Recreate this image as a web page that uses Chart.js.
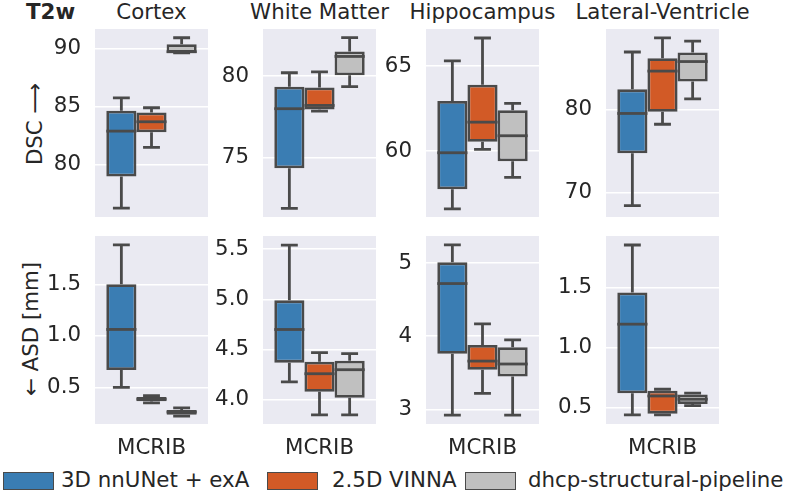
<!DOCTYPE html>
<html>
<head>
<meta charset="utf-8">
<script src="https://cdn.jsdelivr.net/npm/chart.js@4"></script>
<style>
  body { margin: 0; width: 788px; height: 494px; position: relative; overflow: hidden; background: #fff;
         font-family: "DejaVu Sans", sans-serif; color: #262626; }
  canvas { position: absolute; }
  .t { position: absolute; font-size: 21.33px; line-height: 21.33px; white-space: nowrap; }
  .patch { position: absolute; height: 18px; border: 1px solid #4a4a4a; box-sizing: border-box; }
</style>
</head>
<body>
<div class="t" style="left:26px;top:1px;font-weight:bold">T2w</div>
<div class="t" style="left:35px;top:124px;transform:translate(-50%,-50%) rotate(-90deg)">DSC ⟶</div>
<div class="t" style="left:31px;top:329px;transform:translate(-50%,-50%) rotate(-90deg)">← ASD [mm]</div>
<div id="titles"></div>
<div id="legend"></div>

<canvas id="dsc0" width="183" height="244" style="left:25px;top:1px"></canvas>
<canvas id="dsc1" width="183" height="244" style="left:193px;top:1px"></canvas>
<canvas id="dsc2" width="183" height="244" style="left:356px;top:1px"></canvas>
<canvas id="dsc3" width="183" height="244" style="left:536px;top:1px"></canvas>
<canvas id="asd0" width="183" height="256" style="left:25px;top:208px"></canvas>
<canvas id="asd1" width="183" height="256" style="left:193px;top:208px"></canvas>
<canvas id="asd2" width="183" height="256" style="left:356px;top:208px"></canvas>
<canvas id="asd3" width="183" height="256" style="left:536px;top:208px"></canvas>

<script>
// data: box stats per method as [min, q1, median, q3, max]
const methods = ['3D nnUNet + exA', '2.5D VINNA', 'dhcp-structural-pipeline']
const regions = ['Cortex', 'White Matter', 'Hippocampus', 'Lateral-Ventricle']
const datasetNames = ['MCRIB']

const dscCortex = [[76.3, 79.0, 82.9, 84.65, 85.75], [81.5, 82.8, 83.7, 84.5, 84.9], [89.6, 89.6, 89.7, 90.35, 90.9]]
const dscWhiteMatter = [[71.9, 74.35, 78.0, 79.35, 80.2], [77.85, 77.95, 78.2, 79.3, 80.25], [79.35, 80.05, 81.2, 81.5, 82.35]]
const dscHippocampus = [[56.6, 57.75, 59.9, 62.95, 65.3], [60.1, 60.55, 61.7, 63.9, 66.65], [58.45, 59.4, 60.9, 62.4, 62.8]]
const dscVentricle = [[68.4, 74.7, 79.5, 82.4, 86.9], [78.2, 79.7, 84.6, 86.15, 88.6], [81.25, 83.35, 85.75, 86.85, 88.2]]

const asdCortex = [[0.5, 0.668, 1.062, 1.5, 1.882], [0.35, 0.365, 0.385, 0.405, 0.42], [0.22, 0.235, 0.26, 0.28, 0.30]]
const asdWhiteMatter = [[4.18, 4.37, 4.70, 4.99, 5.54], [3.85, 4.08, 4.26, 4.38, 4.47], [3.85, 4.02, 4.30, 4.39, 4.46]]
const asdHippocampus = [[2.92, 3.76, 4.72, 5.01, 5.25], [3.22, 3.54, 3.66, 3.88, 4.17], [2.92, 3.45, 3.62, 3.85, 3.95]]
const asdVentricle = [[0.44, 0.62, 1.194, 1.458, 1.852], [0.44, 0.45, 0.597, 0.64, 0.653], [0.517, 0.53, 0.57, 0.61, 0.62]]

// tick labels per panel
const dscTicks = [['80', '85', '90'], ['75', '80'], ['60', '65'], ['70', '80']]
const asdTicks = [['0.5', '1.0', '1.5'], ['4.0', '4.5', '5.0', '5.5'], ['3', '4', '5'], ['0.5', '1.0', '1.5']]

const colors = ['#3a7db3', '#d25a26', '#c0c0c0']
const edge = '#4a4a4a'
const txt = '#262626'
const font = { family: 'DejaVu Sans', size: 21.33 }
const plotLefts = [95, 263, 426, 606]
const plotW = 113

// background, whiskers and medians
const boxPlugin = {
  id: 'boxes',
  beforeDraw(chart) {
    const { ctx, chartArea: a } = chart
    ctx.save()
    ctx.fillStyle = '#eaeaf2'
    ctx.fillRect(a.left, a.top, a.width, a.height)
    ctx.restore()
  },
  beforeDatasetsDraw(chart) {
    const ctx = chart.ctx
    const y = chart.scales.y
    ctx.save()
    ctx.strokeStyle = edge
    ctx.lineWidth = 2.8
    chart.data.datasets.forEach((ds, i) => {
      const bar = chart.getDatasetMeta(i).data[0]
      const s = ds.stats
      const cap = bar.width * 0.28
      ctx.beginPath()
      ctx.moveTo(bar.x, y.getPixelForValue(s[3]))
      ctx.lineTo(bar.x, y.getPixelForValue(s[4]))
      ctx.moveTo(bar.x - cap, y.getPixelForValue(s[4]))
      ctx.lineTo(bar.x + cap, y.getPixelForValue(s[4]))
      ctx.moveTo(bar.x, y.getPixelForValue(s[1]))
      ctx.lineTo(bar.x, y.getPixelForValue(s[0]))
      ctx.moveTo(bar.x - cap, y.getPixelForValue(s[0]))
      ctx.lineTo(bar.x + cap, y.getPixelForValue(s[0]))
      ctx.stroke()
    })
    ctx.restore()
  },
  afterDatasetsDraw(chart) {
    const ctx = chart.ctx
    const y = chart.scales.y
    ctx.save()
    ctx.strokeStyle = edge
    ctx.lineWidth = 2.8
    chart.data.datasets.forEach((ds, i) => {
      const bar = chart.getDatasetMeta(i).data[0]
      const m = y.getPixelForValue(ds.stats[2])
      ctx.beginPath()
      ctx.moveTo(bar.x - bar.width / 2, m)
      ctx.lineTo(bar.x + bar.width / 2, m)
      ctx.stroke()
    })
    ctx.restore()
  }
}

function drawPanel(id, stats, ticks, yMin, yMax, showX) {
  new Chart(document.getElementById(id), {
    type: 'bar',
    data: {
      labels: datasetNames,
      datasets: stats.map((s, i) => ({
        label: methods[i],
        data: [[s[1], s[3]]],
        stats: s,
        backgroundColor: colors[i],
        borderColor: edge,
        borderWidth: 2.8,
        borderSkipped: false,
        barPercentage: 1,
        categoryPercentage: 0.8
      }))
    },
    options: {
      responsive: false,
      animation: false,
      layout: { padding: { top: 28, bottom: showX ? 0 : 28, left: 0, right: 0 } },
      plugins: { legend: { display: false }, tooltip: { enabled: false } },
      scales: {
        x: {
          display: showX,
          grid: { display: false },
          border: { display: false },
          ticks: { color: txt, font: font, padding: 4 },
          afterFit(s) { if (showX) s.height = 40 }
        },
        y: {
          min: yMin,
          max: yMax,
          grid: { color: '#ffffff', lineWidth: 1.5, drawTicks: false },
          border: { display: false },
          ticks: {
            color: txt, font: font, padding: 14,
            callback: v => ticks.find(t => parseFloat(t) === v)
          },
          afterBuildTicks(s) { s.ticks = ticks.map(t => ({ value: parseFloat(t) })) },
          afterFit(s) { s.width = 70 }
        }
      }
    },
    plugins: [boxPlugin]
  })
}

drawPanel('dsc0', dscCortex, dscTicks[0], 75.54, 91.65, false)
drawPanel('dsc1', dscWhiteMatter, dscTicks[1], 71.37, 82.88, false)
drawPanel('dsc2', dscHippocampus, dscTicks[2], 56.12, 67.18, false)
drawPanel('dsc3', dscVentricle, dscTicks[3], 67.03, 89.67, false)
drawPanel('asd0', asdCortex, asdTicks[0], 0.144, 1.969, true)
drawPanel('asd1', asdWhiteMatter, asdTicks[1], 3.76, 5.63, true)
drawPanel('asd2', asdHippocampus, asdTicks[2], 2.80, 5.37, true)
drawPanel('asd3', asdVentricle, asdTicks[3], 0.364, 1.927, true)

// column titles
const titles = document.getElementById('titles')
regions.forEach((r, i) => {
  const d = document.createElement('div')
  d.className = 't'
  d.textContent = r
  d.style.left = (plotLefts[i] + plotW / 2) + 'px'
  d.style.top = '1px'
  d.style.transform = 'translateX(-50%)'
  titles.appendChild(d)
})

// legend
const legend = document.getElementById('legend')
const patchX = [3, 267, 465]
const textX = [61, 332, 528]
methods.forEach((m, i) => {
  const p = document.createElement('div')
  p.className = 'patch'
  p.style.left = patchX[i] + 'px'
  p.style.top = '472px'
  p.style.width = '51px'
  p.style.background = colors[i]
  legend.appendChild(p)
  const t = document.createElement('div')
  t.className = 't'
  t.textContent = m
  t.style.left = textX[i] + 'px'
  t.style.top = '469px'
  legend.appendChild(t)
})
</script>
</body>
</html>
